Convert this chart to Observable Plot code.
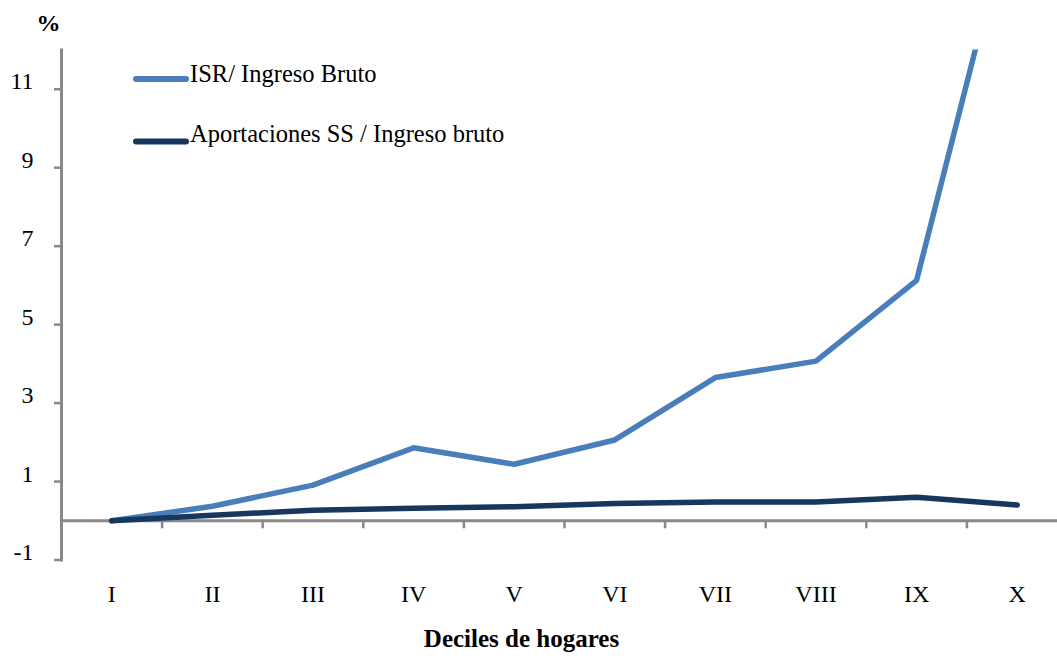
<!DOCTYPE html>
<html><head><meta charset="utf-8">
<script src="https://cdn.jsdelivr.net/npm/d3@7"></script>
<script src="https://cdn.jsdelivr.net/npm/@observablehq/plot@0.6"></script>
<style>
body{margin:0;background:#fff;}
#wrap{position:relative;width:1057px;height:656px;font-family:"Liberation Serif",serif;}
#wrap svg text{font-family:"Liberation Serif",serif;}
#legend{position:absolute;left:0;top:0;pointer-events:none;}
</style></head><body><div id="wrap"></div>
<script>
const deciles = ["I","II","III","IV","V","VI","VII","VIII","IX","X"];
const isrValues = [0, 0.37, 0.91, 1.86, 1.44, 2.06, 3.65, 4.07, 6.13, 16.2];
const ssValues  = [0, 0.14, 0.27, 0.32, 0.36, 0.44, 0.48, 0.48, 0.60, 0.40];
const seriesNames = ["ISR/ Ingreso Bruto", "Aportaciones SS / Ingreso bruto"];
const seriesColors = ["#4a7ebb", "#17375e"];
const yTicks = [-1, 1, 3, 5, 7, 9, 11];
const yTitle = "%";
const xTitle = "Deciles de hogares";

const FONT = "\"Liberation Serif\", serif";
const AXIS = "#898989";

const idx = d3.range(deciles.length);
const boundaries = idx.slice(1).map(i => i - 0.5);
const rows = [];
[isrValues, ssValues].forEach((vals, s) => idx.forEach(i => rows.push({i, decile: deciles[i], value: vals[i], series: seriesNames[s]})));

const chart = Plot.plot({
  width: 1057, height: 656,
  marginLeft: 61, marginRight: 0, marginTop: 49.5, marginBottom: 96.5,
  style: {fontFamily: FONT, fontSize: "24px", color: "#000", background: "#fff", overflow: "visible"},
  x: {type: "linear", domain: [-0.5, deciles.length - 0.5], range: [61, 1067], axis: null},
  y: {domain: [-1, 12], range: [559.5, 49.5], axis: null},
  color: {domain: seriesNames, range: seriesColors},
  marks: [
    Plot.frame({anchor: "left", stroke: AXIS, strokeWidth: 3}),
    Plot.ruleY([0], {stroke: AXIS, strokeWidth: 3}),
    Plot.ruleX(boundaries, {x: d => d, y1: 0, y2: 0, insetBottom: -8, stroke: AXIS, strokeWidth: 2.5}),
    Plot.axisY(yTicks, {anchor: "left", tickSize: 7, tickPadding: 21, stroke: AXIS, strokeWidth: 2.5,
      fill: "#000", fontSize: 24, lineAnchor: "bottom", label: null, tickFormat: d => String(d)}),
    Plot.axisX(idx, {anchor: "bottom", tickSize: 0, tickPadding: 24.5, fill: "#000", fontSize: 24,
      label: null, tickFormat: i => deciles[i]}),
    Plot.line(rows, {x: "i", y: "value", z: "series", stroke: "series", strokeWidth: 5.5,
      strokeLinecap: "round", strokeLinejoin: "round", clip: true}),
    Plot.text([yTitle], {text: d => d, frameAnchor: "top-left", textAnchor: "end", dx: -1, dy: -19.5,
      lineAnchor: "bottom", fontWeight: "bold", fontSize: 24, fill: "#000"}),
    Plot.text([xTitle], {text: d => d, frameAnchor: "bottom", dx: -38, dy: 86.5,
      lineAnchor: "bottom", fontWeight: "bold", fontSize: 25, fill: "#000"})
  ]
});
const wrap = document.getElementById("wrap");
wrap.appendChild(chart);

// legend overlay
const leg = d3.select(wrap).append("svg").attr("id", "legend").attr("width", 1057).attr("height", 656);
const legY = [79, 141.5];
seriesNames.forEach((name, k) => {
  leg.append("line").attr("x1", 136).attr("x2", 186).attr("y1", legY[k]).attr("y2", legY[k])
    .attr("stroke", seriesColors[k]).attr("stroke-width", 6).attr("stroke-linecap", "round");
  leg.append("text").attr("x", 190).attr("y", legY[k] + (k === 0 ? 3 : 0.5))
    .style("font-family", FONT).attr("font-size", 24.5).attr("fill", "#000").text(name);
});
</script></body></html>
